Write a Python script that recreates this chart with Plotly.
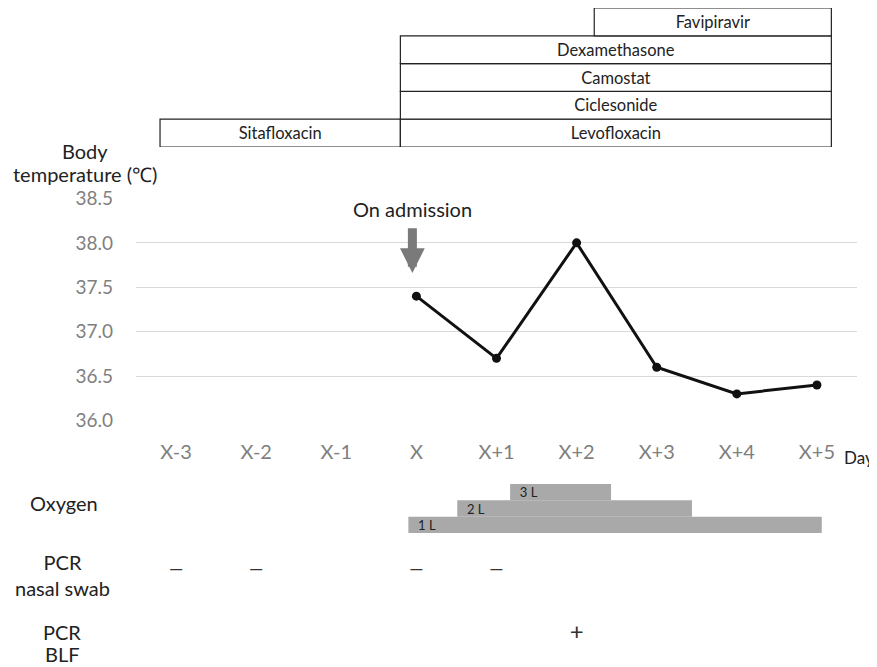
import plotly.graph_objects as go

# ---- data ----
days = ["X-3", "X-2", "X-1", "X", "X+1", "X+2", "X+3", "X+4", "X+5"]
temp_days = [3, 4, 5, 6, 7, 8]            # index into days
temperature = [37.4, 36.7, 38.0, 36.6, 36.3, 36.4]

drug_names = ["Sitafloxacin", "Levofloxacin", "Ciclesonide", "Camostat", "Dexamethasone", "Favipiravir"]
drug_rows = [0, 0, 1, 2, 3, 4]
drug_start = [-0.2, 2.8, 2.8, 2.8, 2.8, 5.22]
drug_end = [2.8, 8.18, 8.18, 8.18, 8.18, 8.18]

oxygen_labels = ["1 L", "2 L", "3 L"]
oxygen_level = [1, 2, 3]
oxygen_start = [2.9, 3.51, 4.17]
oxygen_end = [8.06, 6.44, 5.43]

pcr_nasal_days = [0, 1, 3, 4]
pcr_nasal_result = ["\u2014", "\u2014", "\u2014", "\u2014"]
pcr_blf_days = [5]
pcr_blf_result = ["+"]

FONT = "Lato"
W, H = 877, 667
OFF = 8  # page body margin

def py(px):  # screen pixel row -> paper y
    return max(0.0, min(1.0, 1 - (px - OFF) / H))

def px_(x):  # screen pixel column -> paper x
    return max(0.0, min(1.0, (x - OFF) / W))

fig = go.Figure()

# drug boxes
fig.add_trace(go.Bar(
    orientation="h", y=drug_rows, base=drug_start,
    x=[e - s for s, e in zip(drug_start, drug_end)],
    width=1, marker=dict(color="white", line=dict(color="#222", width=1.2)),
    text=drug_names, textposition="inside", insidetextanchor="middle", textangle=0,
    constraintext="none",
    textfont=dict(family=FONT, size=16.5, color="#222"),
    xaxis="x", yaxis="y2", hoverinfo="skip", showlegend=False,
))

# oxygen
fig.add_trace(go.Bar(
    orientation="h", y=oxygen_level, base=oxygen_start,
    x=[e - s for s, e in zip(oxygen_start, oxygen_end)],
    width=1, marker=dict(color="#a9a9a9", line=dict(width=0)),
    text=["\u00a0\u00a0" + t for t in oxygen_labels], textposition="inside",
    insidetextanchor="start", textangle=0, constraintext="none",
    textfont=dict(family=FONT, size=13, color="#222"),
    xaxis="x", yaxis="y3", hoverinfo="skip", showlegend=False,
))

# temperature
fig.add_trace(go.Scatter(
    x=temp_days, y=temperature, mode="lines+markers",
    line=dict(color="#111", width=3), marker=dict(color="#111", size=9),
    xaxis="x", yaxis="y", showlegend=False, cliponaxis=False,
))

# PCR results
fig.add_trace(go.Scatter(
    x=pcr_nasal_days, y=[1] * len(pcr_nasal_days), mode="text", text=pcr_nasal_result,
    textfont=dict(family=FONT, size=18, color="#333"), xaxis="x", yaxis="y4", showlegend=False,
))
fig.add_trace(go.Scatter(
    x=pcr_blf_days, y=[0] * len(pcr_blf_days), mode="text", text=pcr_blf_result,
    textfont=dict(family=FONT, size=24, color="#333"), xaxis="x", yaxis="y4", showlegend=False,
))

x0, x1 = 136, 857
fig.update_layout(
    width=W, height=H, margin=dict(l=0, r=0, t=0, b=0, autoexpand=False),
    paper_bgcolor="white", plot_bgcolor="white",
    font=dict(family=FONT, color="#222"),
    barmode="overlay",
    xaxis=dict(domain=[px_(x0), px_(x1)], range=[-0.5, 8.5], tickvals=list(range(len(days))),
               ticktext=days, showgrid=False, zeroline=False, showline=False, ticks="",
               tickfont=dict(family=FONT, size=20, color="#7f7f7f"), ticklabelstandoff=17,
               anchor="y", automargin=False),
    yaxis=dict(domain=[py(421), py(198)], range=[35.995, 38.505], tickvals=[36.0, 36.5, 37.0, 37.5, 38.0, 38.5],
               tickformat=".1f",
               gridcolor="#d9d9d9", gridwidth=1.2, zeroline=False, showline=False, ticks="",
               tickfont=dict(family=FONT, size=19, color="#7f7f7f"), ticklabelstandoff=22,
               automargin=False),
    yaxis2=dict(domain=[py(147), py(7)], range=[-0.5, 4.5], visible=False, automargin=False),
    yaxis3=dict(domain=[py(533), py(484)], range=[0.5, 3.5], visible=False, automargin=False),
    yaxis4=dict(domain=[py(666), py(538)], range=[-0.5, 1.5], visible=False, automargin=False),
)

def lab(text, x, y, size=20, xanchor="center"):
    return dict(text=text, x=px_(x), y=py(y), xref="paper", yref="paper", showarrow=False,
                xanchor=xanchor, yanchor="middle", font=dict(size=size, color="#222"))

ann = [
    lab("Body", 85, 151),
    lab("temperature (\u2103)", 85, 174),
    lab("Day", 842, 457, size=17, xanchor="left"),
    lab("Oxygen", 64, 503),
    lab("PCR<br>nasal swab", 62, 575),
    lab("PCR", 62, 632),
    lab("BLF", 62, 654),
    dict(text="On admission", x=2.95, y=38.38, xref="x", yref="y", showarrow=False,
         xanchor="center", yanchor="middle", font=dict(size=20, color="#222")),
    dict(text="", x=2.95, y=37.66, ax=2.95, ay=38.18, xref="x", yref="y", axref="x", ayref="y",
         showarrow=True, arrowhead=2, arrowsize=0.55, arrowwidth=9, arrowcolor="#7a7a7a"),
]
fig.update_layout(annotations=ann)

fig.write_html("out.html")
